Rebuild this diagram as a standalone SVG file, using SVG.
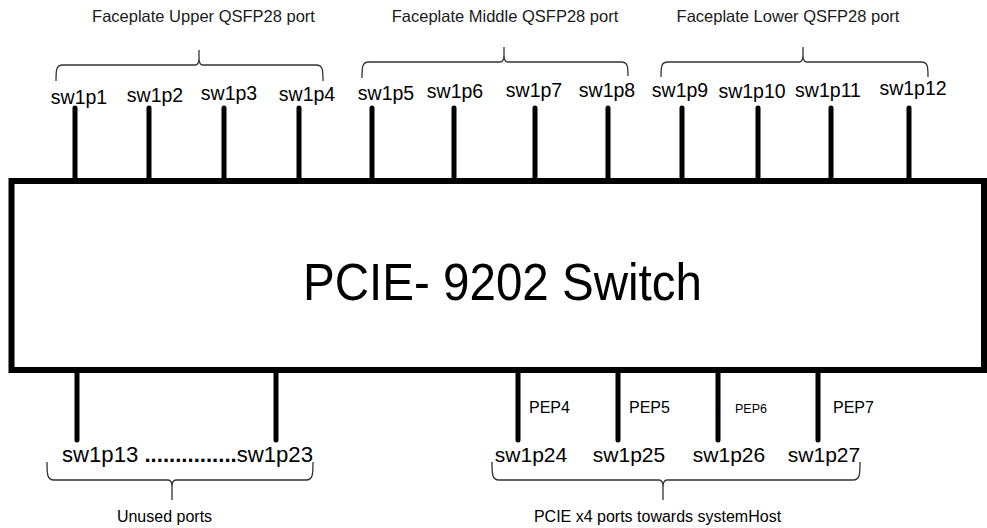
<svg xmlns="http://www.w3.org/2000/svg" width="987" height="528" viewBox="0 0 987 528">
<style>
text{font-family:"Liberation Sans",Arial,sans-serif;fill:#000}
.hdr{font-size:16.5px;text-anchor:middle;fill:#1a1a1a}
.top{font-size:19.5px;text-anchor:middle}
.bot{font-size:21px;text-anchor:middle}
.pep{font-size:16px}
.port{stroke:#000;stroke-width:5;stroke-linecap:round;fill:none}
.brace{stroke:#333;stroke-width:1.3;fill:none}
</style>
<rect width="987" height="528" fill="#fff"/>
<g id="switch">
<rect x="11.5" y="181" width="972.5" height="189" fill="#fff" stroke="#000" stroke-width="6"/>
<text x="502.5" y="300" font-size="52" text-anchor="middle" textLength="399" lengthAdjust="spacingAndGlyphs">PCIE- 9202 Switch</text>
</g>
<g id="connectors">
<path class="port" d="M75 108V181M149 108V181M224 108V181M299 108V181M372 108V181M454 108V181M535 108V181M608 108V181M682 108V181M758 108V181M831 108V181M909 108V181"/>
<path class="port" d="M77 370V440M276 370V440M518 370V440M618 370V440M718 370V440M818 370V440"/>
</g>
<g id="braces">
<path class="brace" d="M56 81C56 70 56 65 63 65L195 65C198 65 199 63 199 58L199 50M199 58C199 63 200 65 203 65L316 65C323 65 323 70 323 81"/>
<path class="brace" d="M362 78C362 67 362 62 369 62L500 62C503 62 504 60 504 55L504 47M504 55C504 60 505 62 508 62L621 62C628 62 628 67 628 76"/>
<path class="brace" d="M661 77C661 67 661 62 668 62L799 62C802 62 803 60 803 55L803 47M803 55C803 60 804 62 807 62L921 62C928 62 928 67 928 77"/>
<path class="brace" d="M47 462C47 474 47 480 54 480L168 480C171 480 172 482 172 487L172 500M172 487C172 482 173 480 176 480L306 480C313 480 313 474 313 462"/>
<path class="brace" d="M492 462C492 474 492 480 499 480L659 480C662 480 663 482 663 487L663 500M663 487C663 482 664 480 667 480L853 480C860 480 860 474 860 462"/>
</g>
<g id="headers">
<text class="hdr" x="203.5" y="22">Faceplate Upper QSFP28 port</text>
<text class="hdr" x="505" y="22">Faceplate Middle QSFP28 port</text>
<text class="hdr" x="788" y="22">Faceplate Lower QSFP28 port</text>
</g>
<g id="sw1p1"><text class="top" x="79" y="104">sw1p1</text></g>
<g id="sw1p2"><text class="top" x="155" y="102">sw1p2</text></g>
<g id="sw1p3"><text class="top" x="229" y="100">sw1p3</text></g>
<g id="sw1p4"><text class="top" x="307" y="101">sw1p4</text></g>
<g id="sw1p5"><text class="top" x="386" y="100">sw1p5</text></g>
<g id="sw1p6"><text class="top" x="455" y="98">sw1p6</text></g>
<g id="sw1p7"><text class="top" x="534" y="97">sw1p7</text></g>
<g id="sw1p8"><text class="top" x="607" y="97">sw1p8</text></g>
<g id="sw1p9"><text class="top" x="680" y="97">sw1p9</text></g>
<g id="sw1p10"><text class="top" x="752" y="98">sw1p10</text></g>
<g id="sw1p11"><text class="top" x="828" y="97">sw1p11</text></g>
<g id="sw1p12"><text class="top" x="913" y="95">sw1p12</text></g>
<g id="unused">
<text x="62" y="462" font-size="21.5" textLength="251" lengthAdjust="spacingAndGlyphs">sw1p13 <tspan font-weight="bold">...............</tspan>sw1p23</text>
<text x="164.5" y="522" font-size="16" text-anchor="middle">Unused ports</text>
</g>
<g id="sw1p24"><text class="bot" x="531" y="462">sw1p24</text><text class="pep" x="529" y="413">PEP4</text></g>
<g id="sw1p25"><text class="bot" x="629" y="462">sw1p25</text><text class="pep" x="629" y="413">PEP5</text></g>
<g id="sw1p26"><text class="bot" x="729" y="462">sw1p26</text><text x="735" y="413" font-size="12.5">PEP6</text></g>
<g id="sw1p27"><text class="bot" x="824" y="462">sw1p27</text><text class="pep" x="833" y="413">PEP7</text></g>
<g id="host"><text x="657.5" y="522" font-size="16" text-anchor="middle">PCIE x4 ports towards systemHost</text></g>
</svg>
